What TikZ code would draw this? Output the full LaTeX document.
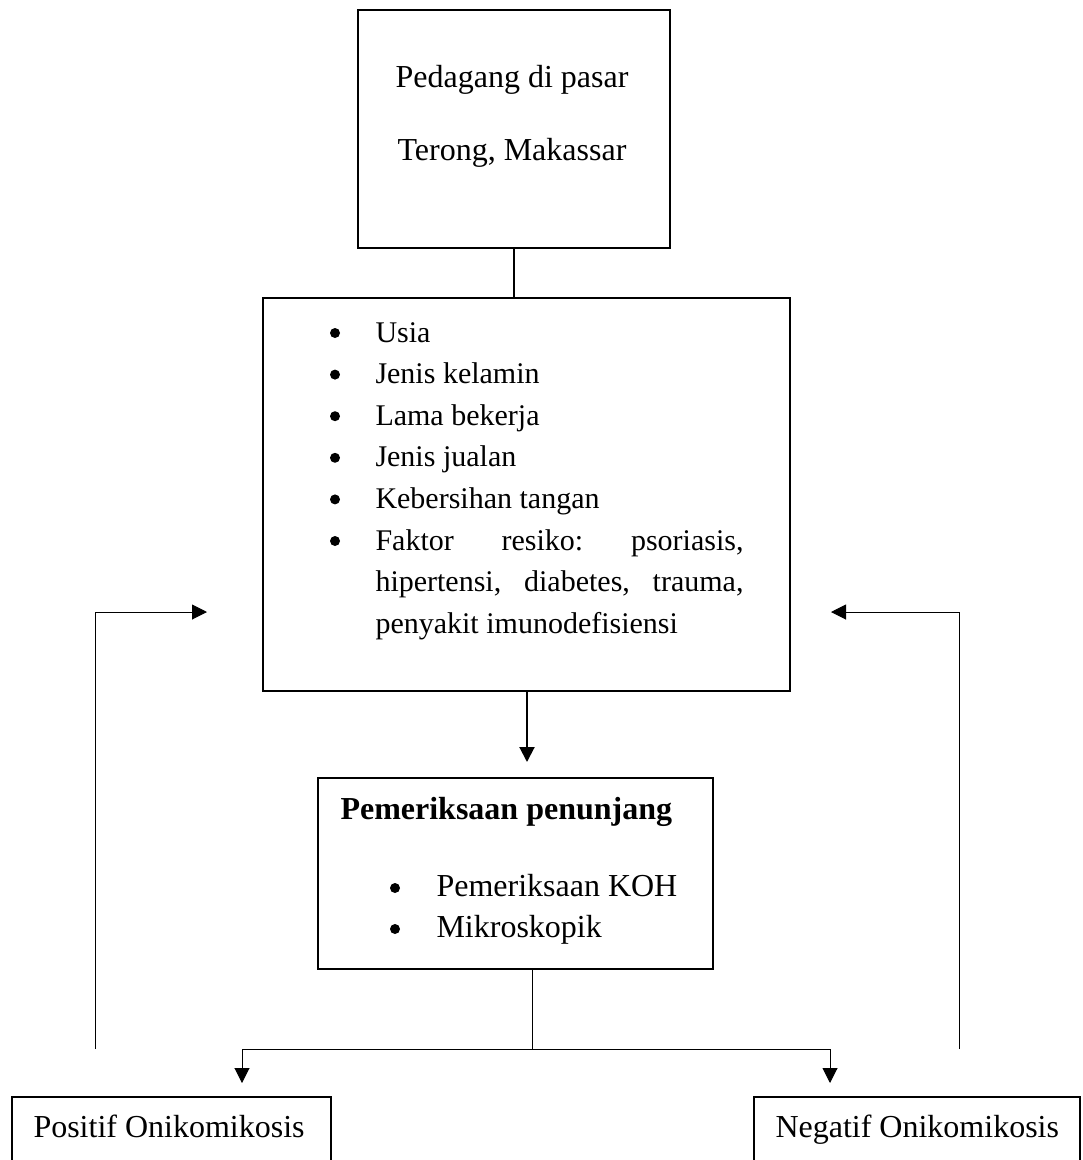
\documentclass[tikz,border=0pt]{standalone}
\usepackage{fontspec}
\setmainfont{Liberation Serif}
\usepackage{tikz}
\usetikzlibrary{arrows.meta}
\frenchspacing

\begin{document}
\begin{tikzpicture}[x=0.4pt, y=-0.4pt]
    \tikzstyle{box}=[draw, line width=0.8pt, inner sep=0pt]
    \tikzstyle{txt}=[anchor=base west, inner sep=0pt, font=\fontsize{12}{16.6}\selectfont]
    \tikzstyle{bigtxt}=[anchor=base west, inner sep=0pt, font=\fontsize{12.8}{16.6}\selectfont]
    \tikzstyle{centertxt}=[anchor=base, inner sep=0pt, font=\fontsize{12.8}{16.6}\selectfont]
    \tikzstyle{dot}=[circle, fill=black, minimum size=4pt, inner sep=0pt]
    \tikzstyle{thick}=[line width=0.8pt]
    \tikzstyle{thin}=[line width=0.4pt]
    \tikzstyle{tip}=[-{Triangle[length=6pt, width=6pt]}]

    \useasboundingbox (0,0) rectangle (1083,1160);

    % boxes
    \node[box, minimum width=124.8pt, minimum height=95.2pt] (pedagang) at (514,129) {};
    \node[box, minimum width=210.8pt, minimum height=157.2pt] (faktor) at (526.5,494.5) {};
    \node[box, minimum width=158pt, minimum height=76.4pt] (periksa) at (515.5,873.5) {};
    \node[box, minimum width=127.6pt, minimum height=40pt] (positif) at (171.5,1147) {};
    \node[box, minimum width=130.4pt, minimum height=40pt] (negatif) at (917,1147) {};

    % top box text
    \node[centertxt] (ped1) at (512,87) {Pedagang di pasar};
    \node[centertxt] (ped2) at (512,160) {Terong, Makassar};

    % list in the middle box
    \node[dot] (b1) at (335,333) {};
    \node[dot] (b2) at (335,374.6) {};
    \node[dot] (b3) at (335,416.2) {};
    \node[dot] (b4) at (335,457.8) {};
    \node[dot] (b5) at (335,499.4) {};
    \node[dot] (b6) at (335,541) {};
    \node[txt] (usia) at (375,342) {Usia};
    \node[txt] (kelamin) at (375,383.6) {Jenis kelamin};
    \node[txt] (lama) at (375,425.2) {Lama bekerja};
    \node[txt] (jualan) at (375,466.8) {Jenis jualan};
    \node[txt] (tangan) at (375,508.4) {Kebersihan tangan};
    \node[txt] (resiko1) at (375,550) {\makebox[147.2pt][s]{Faktor resiko: psoriasis,}};
    \node[txt] (resiko2) at (375,591.6) {\makebox[147.2pt][s]{hipertensi, diabetes, trauma,}};
    \node[txt] (resiko3) at (375,633.2) {penyakit imunodefisiensi};

    % lower box text
    \node[bigtxt] (judul) at (340,819) {\bfseries Pemeriksaan penunjang};
    \node[dot] (b7) at (395,888) {};
    \node[dot] (b8) at (395,929) {};
    \node[bigtxt] (koh) at (436,896) {Pemeriksaan KOH};
    \node[bigtxt] (mikro) at (436,937) {Mikroskopik};

    % result text
    \node[bigtxt] (postxt) at (33,1137) {Positif Onikomikosis};
    \node[bigtxt] (negtxt) at (775,1137) {Negatif Onikomikosis};

    % connectors
    \coordinate (tipA) at (527,762);
    \coordinate (split) at (532,1049);
    \coordinate (tipP) at (242,1083);
    \coordinate (tipN) at (830,1083);
    \coordinate (upL) at (95,1049);
    \coordinate (upR) at (959,1049);
    \coordinate (backL) at (207,612);
    \coordinate (backR) at (831,612);

    \draw[thick] (pedagang.south) -- (pedagang.south |- faktor.north);
    \draw[thick, tip] (faktor.south -| tipA) -- (tipA);
    \draw[thin] (periksa.south -| split) -- (split);
    \draw[thin, tip] (split) -| (tipP);
    \draw[thin, tip] (split) -| (tipN);
    \draw[thin, tip] (upL) |- (backL);
    \draw[thin, tip] (upR) |- (backR);

\end{tikzpicture}
\end{document}
